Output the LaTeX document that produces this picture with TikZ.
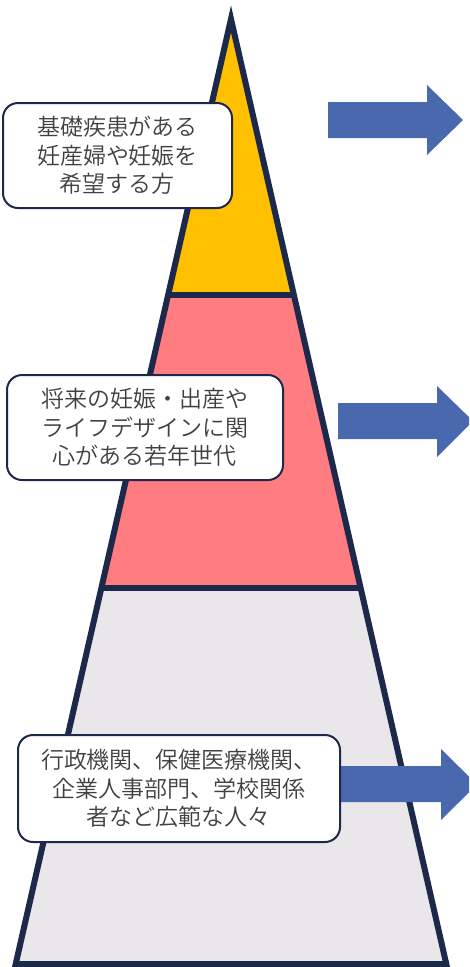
\documentclass[tikz,border=0pt]{standalone}
\usepackage{fontspec}
\IfFontExistsTF{Noto Sans CJK JP DemiLight}
  {\newfontfamily\jpfont{Noto Sans CJK JP DemiLight}}
  {\IfFontExistsTF{Noto Sans CJK JP Light}
    {\newfontfamily\jpfont{Noto Sans CJK JP Light}}
    {\newfontfamily\jpfont{Noto Sans CJK JP}}}
\usetikzlibrary{calc}
\definecolor{navy}{RGB}{28,41,74}
\definecolor{topyel}{RGB}{255,192,0}
\definecolor{midpink}{RGB}{255,124,128}
\definecolor{basegray}{RGB}{234,231,235}
\definecolor{arrowblue}{RGB}{74,104,174}
\definecolor{txtgray}{RGB}{64,64,64}
\tikzset{
  box/.style={draw=navy, line width=2pt, fill=white, rounded corners=15pt,
    align=center, text=txtgray, font=\jpfont\fontsize{23}{28.5}\selectfont, inner sep=0pt},
  outline/.style={draw=navy, line width=6pt, line join=miter},
  bigarrow/.style={fill=arrowblue}
}
\begin{document}
\begin{tikzpicture}[x=1pt,y=-1pt]
\useasboundingbox (0,0) rectangle (469,967);
\clip (0,0) rectangle (469,967);
\coordinate (A) at (231,19);
\coordinate (BL) at (15.7,964);
\coordinate (BR) at (446.3,964);
\coordinate (L1) at ($(A)!0.292!(BL)$);
\coordinate (R1) at ($(A)!0.292!(BR)$);
\coordinate (L2) at ($(A)!0.602!(BL)$);
\coordinate (R2) at ($(A)!0.602!(BR)$);
% sections
\fill[topyel] (A)--(R1)--(L1)--cycle;
\fill[midpink] (L1)--(R1)--(R2)--(L2)--cycle;
\fill[basegray] (L2)--(R2)--(BR)--(BL)--cycle;
\draw[outline] (L1)--(R1);
\draw[outline] (L2)--(R2);
\draw[outline] (A)--(BR)--(BL)--cycle;
% arrows
\fill[bigarrow] (328,102) -- (427,102) -- (427,85) -- (463,120) -- (427,155) -- (427,138) -- (328,138) -- cycle;
\fill[bigarrow] (338,403) -- (437,403) -- (437,386) -- (473,421) -- (437,457) -- (437,439) -- (338,439) -- cycle;
\fill[bigarrow] (330,766) -- (441,766) -- (441,749) -- (477,784.5) -- (441,820) -- (441,802) -- (330,802) -- cycle;
% boxes
\node[box, minimum width=229pt, minimum height=105pt] (b1) at (117.5,155.5)
  {基礎疾患がある\\妊産婦や妊娠を\\希望する方};
\node[box, minimum width=276pt, minimum height=105pt] (b2) at (145,427.5)
  {将来の妊娠・出産や\\ライフデザインに関\\心がある若年世代};
\node[box, minimum width=322pt, minimum height=107pt] (b3) at (179,788.5)
  {行政機関、保健医療機関、\\企業人事部門、学校関係\\者など広範な人々};
\end{tikzpicture}
\end{document}
